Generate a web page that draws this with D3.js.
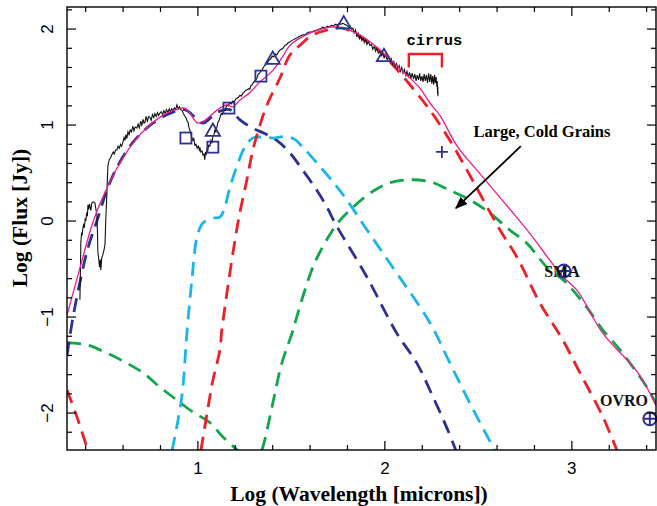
<!DOCTYPE html>
<html>
<head>
<meta charset="utf-8">
<script src="https://cdn.jsdelivr.net/npm/d3@7"></script>
<style>
  html, body { margin: 0; padding: 0; background: #fff; }
  svg { display: block; }
</style>
</head>
<body>
<svg id="chart" width="657" height="506"></svg>
<script>
// Spectral energy distribution: log wavelength (microns) vs log flux (Jy)

// Observed spectrum [logλ, logF]
const spectrum = [
  [0.369,-0.82],[0.372,-0.50],[0.374,-0.22],[0.378,-0.12],[0.381,-0.15],[0.385,-0.07],[0.389,-0.04],[0.393,-0.07],
  [0.397,0.02],[0.401,0.01],[0.406,0.09],[0.409,0.05],[0.412,0.17],[0.416,0.12],[0.420,0.18],[0.424,0.14],
  [0.428,0.11],[0.431,0.17],[0.433,0.19],[0.440,0.20],[0.449,0.19],[0.455,0.12],[0.460,0.06],[0.463,-0.12],
  [0.465,-0.32],[0.470,-0.40],[0.474,-0.48],[0.478,-0.40],[0.481,-0.51],[0.486,-0.38],[0.492,-0.35],[0.498,-0.30],
  [0.503,-0.25],[0.508,0.05],[0.513,0.27],[0.516,0.45],[0.519,0.58],[0.526,0.64],[0.533,0.66],[0.540,0.69],
  [0.547,0.72],[0.553,0.70],[0.560,0.74],[0.567,0.74],[0.573,0.78],[0.580,0.76],[0.586,0.80],[0.592,0.78],
  [0.599,0.82],[0.605,0.87],[0.610,0.84],[0.615,0.90],[0.620,0.86],[0.626,0.93],[0.632,0.90],[0.638,0.95],
  [0.645,0.93],[0.652,0.99],[0.658,0.94],[0.665,0.98],[0.674,0.97],[0.680,1.01],[0.687,0.97],[0.694,1.04],
  [0.700,1.00],[0.707,1.06],[0.712,1.02],[0.717,1.03],[0.723,1.09],[0.730,1.04],[0.737,1.09],[0.743,1.08],
  [0.750,1.05],[0.757,1.11],[0.764,1.08],[0.770,1.12],[0.777,1.09],[0.784,1.13],[0.790,1.10],[0.797,1.125],
  [0.804,1.14],[0.811,1.11],[0.818,1.15],[0.825,1.12],[0.832,1.16],[0.840,1.13],[0.847,1.17],[0.853,1.14],
  [0.860,1.17],[0.867,1.15],[0.874,1.18],[0.881,1.16],[0.888,1.21],[0.895,1.17],[0.902,1.19],[0.908,1.16],
  [0.914,1.156],[0.920,1.13],[0.928,1.10],[0.935,1.08],[0.941,1.05],[0.947,1.03],[0.953,0.97],[0.960,0.93],
  [0.968,0.865],[0.973,0.84],[0.978,0.86],[0.984,0.79],[0.990,0.80],[0.996,0.76],[1.002,0.78],[1.008,0.74],
  [1.011,0.76],[1.016,0.72],[1.022,0.73],[1.027,0.69],[1.032,0.70],[1.037,0.64],[1.041,0.72],[1.045,0.70],
  [1.049,0.75],[1.053,0.74],[1.058,0.79],[1.064,0.78],[1.070,0.84],[1.075,0.81],[1.080,0.88],[1.086,0.90],
  [1.091,0.95],[1.096,0.93],[1.102,0.98],[1.107,1.03],[1.112,1.04],[1.118,1.08],[1.125,1.12],[1.131,1.11],
  [1.138,1.15],[1.144,1.156],[1.150,1.18],[1.155,1.21],[1.162,1.20],[1.170,1.23],[1.178,1.22],[1.186,1.25],
  [1.194,1.24],[1.202,1.27],[1.209,1.28],[1.217,1.29],[1.225,1.31],[1.232,1.30],[1.240,1.33],[1.247,1.34],
  [1.255,1.36],[1.262,1.365],[1.270,1.38],[1.277,1.37],[1.283,1.41],[1.289,1.417],[1.296,1.44],[1.303,1.46],
  [1.310,1.47],[1.316,1.49],[1.323,1.53],[1.330,1.54],[1.336,1.56],[1.342,1.57],[1.350,1.60],[1.357,1.62],
  [1.364,1.63],[1.374,1.656],[1.382,1.68],[1.390,1.69],[1.398,1.72],[1.406,1.71],[1.414,1.74],[1.422,1.73],
  [1.430,1.76],[1.438,1.78],[1.446,1.79],[1.455,1.80],[1.465,1.83],[1.475,1.84],[1.484,1.86],[1.492,1.865],
  [1.502,1.88],[1.512,1.89],[1.520,1.90],[1.529,1.906],[1.540,1.92],[1.550,1.93],[1.560,1.94],[1.572,1.94],
  [1.584,1.96],[1.596,1.97],[1.608,1.97],[1.620,1.98],[1.636,1.99],[1.650,2.00],[1.660,2.01],[1.668,2.02],
  [1.680,2.01],[1.692,2.03],[1.703,2.02],[1.714,2.04],[1.725,2.03],[1.735,2.05],[1.743,2.04],[1.755,2.06],
  [1.765,2.05],[1.775,2.06],[1.785,2.05],[1.795,2.04],[1.805,2.02],[1.815,2.03],[1.822,2.00],[1.829,2.01],
  [1.836,1.96],[1.843,1.99],[1.850,1.93],[1.857,1.96],[1.864,1.90],[1.870,1.93],[1.877,1.88],[1.884,1.91],
  [1.890,1.86],[1.897,1.89],[1.904,1.84],[1.912,1.87],[1.920,1.83],[1.928,1.84],[1.935,1.79],[1.943,1.82],
  [1.950,1.77],[1.958,1.80],[1.965,1.75],[1.973,1.77],[1.980,1.72],[1.988,1.75],[1.996,1.70],[2.004,1.73],
  [2.012,1.68],[2.020,1.71],[2.027,1.66],[2.034,1.69],[2.041,1.63],[2.048,1.66],[2.055,1.61],[2.062,1.64],
  [2.069,1.59],[2.076,1.62],[2.083,1.56],[2.090,1.60],[2.097,1.54],[2.104,1.58],[2.111,1.52],[2.118,1.56],
  [2.125,1.50],[2.132,1.55],[2.139,1.49],[2.146,1.54],[2.153,1.48],[2.160,1.53],[2.167,1.46],[2.173,1.52],
  [2.180,1.47],[2.186,1.54],[2.192,1.46],[2.198,1.51],[2.204,1.45],[2.210,1.53],[2.216,1.46],[2.222,1.52],
  [2.228,1.44],[2.234,1.54],[2.240,1.45],[2.246,1.53],[2.251,1.43],[2.256,1.51],[2.261,1.42],[2.266,1.52],
  [2.270,1.44],[2.274,1.50],[2.278,1.40],[2.280,1.46],[2.282,1.32],[2.283,1.40],[2.284,1.30]
];

// Total model (sum of components)
const totalModel = [
  [0.300,-0.98],[0.369,-0.49],[0.439,-0.01],[0.503,0.30],[0.567,0.55],[0.652,0.81],[0.743,1.00],
  [0.834,1.125],[0.914,1.177],[0.930,1.177],[0.957,1.125],[1.000,1.02],[1.037,1.05],[1.102,1.156],
  [1.155,1.21],[1.187,1.19],[1.225,1.26],[1.278,1.34],[1.332,1.45],[1.401,1.57],[1.449,1.70],
  [1.492,1.83],[1.545,1.906],[1.615,1.97],[1.706,2.02],[1.775,2.01],[1.866,1.94],[1.957,1.81],
  [2.043,1.656],[2.134,1.49],[2.187,1.385],[2.241,1.23],[2.294,1.10],[2.390,0.77],[2.492,0.53],
  [2.759,-0.09],[2.952,-0.58],[3.027,-0.72],[3.166,-1.17],[3.353,-1.58],[3.455,-1.94]
];

// Stellar / hot component (navy)
const stellar = [
  [0.300,-1.40],[0.332,-1.00],[0.369,-0.64],[0.412,-0.28],[0.465,0.03],[0.513,0.32],[0.567,0.56],
  [0.652,0.82],[0.759,1.02],[0.866,1.135],[0.930,1.16],[0.980,1.09],[1.027,1.02],[1.100,1.13],
  [1.170,1.16],[1.222,1.06],[1.290,0.97],[1.360,0.91],[1.422,0.84],[1.492,0.71],[1.561,0.53],
  [1.636,0.32],[1.690,0.146],[1.733,-0.02],[1.900,-0.57],[2.064,-1.17],[2.171,-1.48],[2.257,-1.83],
  [2.337,-2.18],[2.380,-2.39]
];

// Warm small grains (cyan)
const warmGrains = [
  [0.862,-2.39],[0.914,-1.83],[0.941,-1.17],[0.968,-0.61],[0.995,-0.17],[1.027,-0.02],[1.080,0.03],
  [1.118,0.04],[1.144,0.146],[1.171,0.35],[1.214,0.60],[1.251,0.77],[1.294,0.865],[1.350,0.875],
  [1.401,0.865],[1.460,0.88],[1.510,0.86],[1.561,0.77],[1.652,0.57],[1.743,0.36],[1.800,0.21],
  [1.900,-0.08],[2.027,-0.44],[2.241,-1.06],[2.348,-1.48],[2.455,-1.90],[2.588,-2.39]
];

// Main envelope dust (red)
const envelopeDust = [
  [1.016,-2.39],[1.064,-1.83],[1.080,-1.66],[1.118,-1.34],[1.128,-1.135],[1.214,-0.02],[1.262,0.43],
  [1.294,0.74],[1.332,1.00],[1.374,1.23],[1.439,1.49],[1.492,1.73],[1.545,1.83],[1.615,1.94],
  [1.690,1.99],[1.775,2.01],[1.866,1.92],[1.957,1.80],[2.043,1.625],[2.134,1.42],[2.241,1.156],
  [2.348,0.84],[2.439,0.53],[2.615,-0.09],[2.706,-0.375],[2.829,-0.854],[2.952,-1.24],[3.043,-1.58],
  [3.166,-2.04],[3.241,-2.39]
];
const envelopeTail = [[0.300,-1.76],[0.353,-2.04],[0.412,-2.39]];

// Large, cold grains (green)
const coldGrains = [
  [1.342,-2.39],[1.358,-2.28],[1.396,-1.94],[1.449,-1.48],[1.503,-1.17],[1.556,-0.82],[1.626,-0.43],
  [1.733,-0.06],[1.797,0.083],[1.920,0.29],[2.027,0.40],[2.134,0.43],[2.241,0.41],[2.348,0.32],
  [2.455,0.22],[2.561,0.083],[2.668,-0.094],[2.759,-0.23],[2.866,-0.48],[2.952,-0.61],[3.005,-0.72],
  [3.080,-0.90],[3.166,-1.135],[3.257,-1.34],[3.326,-1.52],[3.401,-1.73],[3.455,-1.92]
];
const coldTail = [
  [0.300,-1.27],[0.406,-1.29],[0.513,-1.375],[0.620,-1.48],[0.706,-1.58],[0.797,-1.73],
  [0.888,-1.865],[0.973,-1.99],[1.064,-2.10],[1.134,-2.25],[1.214,-2.39]
];

// Photometry
const squares = [[0.936,0.865],[1.080,0.77],[1.166,1.177],[1.337,1.51]];
const triangles = [[1.080,0.93],[1.400,1.68],[1.780,2.05],[1.995,1.71]];
const crosses = [[2.305,0.72]];
const mmPoints = [[2.957,-0.52,"SMA"],[3.417,-2.06,"OVRO"]];

// Axis ticks
const xMajor = [1, 2, 3];
const xMinor = [0.4,0.6,0.8,1.2,1.4,1.6,1.8,2.2,2.4,2.6,2.8,3.2,3.4];
const yMajor = [-2, -1, 0, 1, 2];
const yMinor = [-2.2,-1.8,-1.6,-1.4,-1.2,-0.8,-0.6,-0.4,-0.2,0.2,0.4,0.6,0.8,1.2,1.4,1.6,1.8,2.2];

const svg = d3.select("#chart");
const L = 67, R = 656, T = 7, B = 450;
const x = d3.scaleLinear().domain([0.3, 3.45]).range([L, R]);
const y = d3.scaleLinear().domain([-2.385, 2.23]).range([B, T]);

svg.append("defs").append("clipPath").attr("id", "plot")
  .append("rect").attr("x", L).attr("y", T).attr("width", R - L).attr("height", B - T);

const plot = svg.append("g").attr("clip-path", "url(#plot)");

const smooth = d3.line().x(d => x(d[0])).y(d => y(d[1])).curve(d3.curveCatmullRom.alpha(0.5));
const straight = d3.line().x(d => x(d[0])).y(d => y(d[1]));

const dash = "14,8";
function dashed(data, color) {
  plot.append("path").attr("d", smooth(data)).attr("fill", "none")
    .attr("stroke", color).attr("stroke-width", 2.8).attr("stroke-dasharray", dash);
}
dashed(coldTail, "#10a64a");
dashed(envelopeTail, "#ec2027");
dashed(stellar, "#2e3192");
dashed(warmGrains, "#1cb5ea");
dashed(coldGrains, "#10a64a");
dashed(envelopeDust, "#ec2027");

plot.append("path").attr("d", straight(spectrum)).attr("fill", "none")
  .attr("stroke", "#111").attr("stroke-width", 1.1);

plot.append("path").attr("d", smooth(totalModel)).attr("fill", "none")
  .attr("stroke", "#ec1c8c").attr("stroke-width", 1.3);

// Markers
const navy = "#2e3192";
const mk = svg.append("g").attr("fill", "none").attr("stroke", navy).attr("stroke-width", 1.8);
mk.selectAll(".sq").data(squares).join("rect")
  .attr("x", d => x(d[0]) - 5.5).attr("y", d => y(d[1]) - 5.5).attr("width", 11).attr("height", 11);
const tri = d3.symbol().type(d3.symbolTriangle).size(88);
mk.selectAll(".tri").data(triangles).join("path")
  .attr("d", tri).attr("transform", d => `translate(${x(d[0])},${y(d[1])})`);
mk.selectAll(".cr").data(crosses).join("path")
  .attr("d", "M-6,0H6M0,-6V6").attr("transform", d => `translate(${x(d[0])},${y(d[1])})`);
mk.selectAll(".mm").data(mmPoints).join("path")
  .attr("d", "M-6.5,0H6.5M0,-6.5V6.5M6.5,0A6.5,6.5 0 1,1 -6.5,0A6.5,6.5 0 1,1 6.5,0")
  .attr("stroke-width", 2)
  .attr("transform", d => `translate(${x(d[0])},${y(d[1])})`);

// Frame and ticks
svg.append("rect").attr("x", L).attr("y", T).attr("width", R - L).attr("height", B - T)
  .attr("fill", "none").attr("stroke", "#000").attr("stroke-width", 1.4);

const ticks = svg.append("g").attr("stroke", "#000").attr("stroke-width", 1.2);
function xt(vals, len) {
  vals.forEach(v => {
    ticks.append("line").attr("x1", x(v)).attr("x2", x(v)).attr("y1", B).attr("y2", B - len);
    ticks.append("line").attr("x1", x(v)).attr("x2", x(v)).attr("y1", T).attr("y2", T + len);
  });
}
function yt(vals, len) {
  vals.forEach(v => {
    ticks.append("line").attr("y1", y(v)).attr("y2", y(v)).attr("x1", L).attr("x2", L + len);
    ticks.append("line").attr("y1", y(v)).attr("y2", y(v)).attr("x1", R).attr("x2", R - len);
  });
}
xt(xMajor, 9); xt(xMinor, 5); yt(yMajor, 9); yt(yMinor, 5);

const sans = "'Liberation Sans', Arial, sans-serif";
const serif = "'Liberation Serif', 'Times New Roman', serif";

svg.selectAll(".xl").data(xMajor).join("text")
  .attr("x", d => x(d)).attr("y", 474).attr("text-anchor", "middle")
  .attr("font-family", sans).attr("font-size", 17).text(d => d);

svg.selectAll(".yl").data(yMajor).join("text")
  .attr("transform", d => `translate(53,${y(d)}) rotate(-90)`).attr("text-anchor", "middle")
  .attr("font-family", sans).attr("font-size", 17).text(d => d < 0 ? "\u2212" + Math.abs(d) : d);

svg.append("text").attr("x", 359).attr("y", 501).attr("text-anchor", "middle")
  .attr("font-family", serif).attr("font-weight", "bold").attr("font-size", 21.5)
  .text("Log (Wavelength [microns])");
svg.append("text").attr("transform", `translate(27,218) rotate(-90)`).attr("text-anchor", "middle")
  .attr("font-family", serif).attr("font-weight", "bold").attr("font-size", 21.5)
  .text("Log (Flux [Jy])");

// Annotations
const cirrusBracket = [[2.128, 1.60], [2.128, 1.74], [2.305, 1.74], [2.305, 1.60]];
svg.append("path").attr("d", straight(cirrusBracket)).attr("fill", "none")
  .attr("stroke", "#ec2027").attr("stroke-width", 2.4);
svg.append("text").attr("x", x(2.265)).attr("y", y(1.83)).attr("text-anchor", "middle")
  .attr("font-family", "'Liberation Mono', 'Courier New', monospace").attr("font-weight", "bold")
  .attr("font-size", 15.5).text("cirrus");

svg.append("text").attr("x", x(2.84)).attr("y", y(0.88)).attr("text-anchor", "middle")
  .attr("font-family", serif).attr("font-weight", "bold").attr("font-size", 16.5)
  .text("Large, Cold Grains");

const arrowFrom = [2.727, 0.78], arrowTo = [2.38, 0.135];
svg.append("defs").append("marker").attr("id", "head").attr("viewBox", "0 0 10 10")
  .attr("refX", 9).attr("refY", 5).attr("markerWidth", 7).attr("markerHeight", 7)
  .attr("orient", "auto").append("path").attr("d", "M0,1L10,5L0,9Z").attr("fill", "#000");
svg.append("line").attr("x1", x(arrowFrom[0])).attr("y1", y(arrowFrom[1]))
  .attr("x2", x(arrowTo[0])).attr("y2", y(arrowTo[1]))
  .attr("stroke", "#000").attr("stroke-width", 1.8).attr("marker-end", "url(#head)");

svg.append("text").attr("x", 562).attr("y", 277).attr("text-anchor", "middle")
  .attr("font-family", serif).attr("font-weight", "bold").attr("font-size", 16).attr("fill", "#111")
  .text(mmPoints[0][2]);
svg.append("text").attr("x", 624).attr("y", 406).attr("text-anchor", "middle")
  .attr("font-family", serif).attr("font-weight", "bold").attr("font-size", 16).attr("fill", "#111")
  .text(mmPoints[1][2]);
</script>
</body>
</html>
